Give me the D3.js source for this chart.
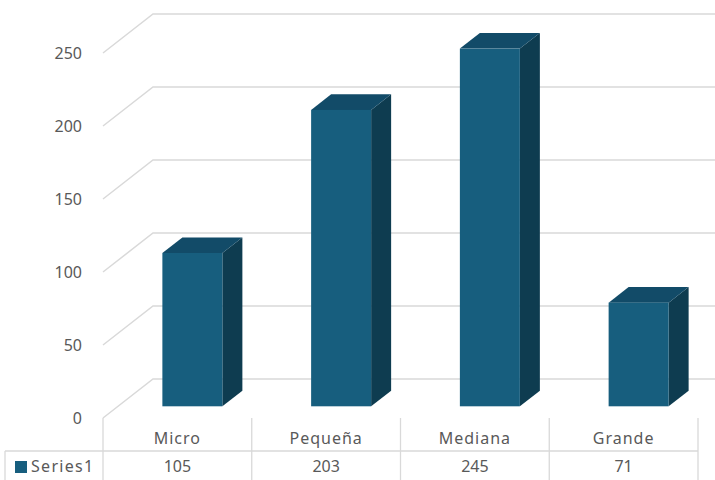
<!DOCTYPE html>
<html><head><meta charset="utf-8">
<script src="https://cdn.jsdelivr.net/npm/d3@7"></script>
<style>html,body{margin:0;padding:0;background:#fff;}svg{display:block;}</style>
</head><body>
<script>
const categories = ["Micro", "Pequeña", "Mediana", "Grande"];
const values = [105, 203, 245, 71];
const yTicks = [0, 50, 100, 150, 200, 250];
const seriesName = "Series1";

const W = 715, H = 480;
const DX = 50, DY = -39;          // depth offset of the back wall
const Z1 = 0.3, Z2 = 0.7;         // bar depth range
const font = "'Noto Sans', sans-serif";
const txt = "#595959", grid = "#d9d9d9";
const cFront = "#175e7e", cTop = "#124b68", cSide = "#0e3c50";

const svg = d3.select("body").append("svg").attr("width", W).attr("height", H);
const y = d3.scaleLinear().domain([0, 250]).range([418, 53]);
const x = d3.scaleBand().domain(categories).range([103, 698]);

// gridlines (floor edge + back wall)
svg.append("g").selectAll("path").data(yTicks).join("path")
  .attr("d", t => `M103,${y(t)}L${103 + DX},${y(t) + DY}L${W},${y(t) + DY}`)
  .attr("fill", "none").attr("stroke", grid).attr("stroke-width", 1.5);

// y labels
svg.append("g").selectAll("text").data(yTicks).join("text")
  .attr("x", 82).attr("y", t => y(t)).attr("dy", "0.35em")
  .attr("text-anchor", "end").attr("font-family", font).attr("font-size", 16)
  .attr("fill", txt).text(t => t);

// bars
const bars = svg.append("g").selectAll("g").data(categories).join("g");
const bw = 60;
function fx(c, z) { return x(c) + x.bandwidth() / 2 - bw / 2 + DX * z; }
function fy(v, z) { return y(v) + DY * z; }
bars.append("path").attr("fill", cSide).attr("d", (c, i) => {
  const v = values[i];
  const xr1 = fx(c, Z1) + bw, xr2 = fx(c, Z2) + bw;
  return `M${xr1},${fy(v, Z1)}L${xr2},${fy(v, Z2)}L${xr2},${fy(0, Z2)}L${xr1},${fy(0, Z1)}Z`;
});
bars.append("path").attr("fill", cTop).attr("d", (c, i) => {
  const v = values[i];
  const a = fx(c, Z1), b = fx(c, Z2);
  return `M${a},${fy(v, Z1)}L${b},${fy(v, Z2)}L${b + bw},${fy(v, Z2)}L${a + bw},${fy(v, Z1)}Z`;
});
bars.append("rect").attr("fill", cFront)
  .attr("x", c => fx(c, Z1)).attr("width", bw)
  .attr("y", (c, i) => fy(values[i], Z1))
  .attr("height", (c, i) => fy(0, Z1) - fy(values[i], Z1));

// data table
const tg = svg.append("g").attr("stroke", grid).attr("stroke-width", 1.3).attr("fill", "none");
const tableTop = 418, rowSep = 451, tableRight = x.range()[1];
tg.append("line").attr("x1", 5).attr("x2", tableRight).attr("y1", rowSep).attr("y2", rowSep);
tg.append("line").attr("x1", 5).attr("x2", 5).attr("y1", rowSep).attr("y2", H);
const edges = categories.map(c => x(c)).concat([tableRight]);
tg.selectAll("line.v").data(edges).join("line").attr("class", "v")
  .attr("x1", d => d).attr("x2", d => d).attr("y1", tableTop).attr("y2", H);

svg.append("g").selectAll("text").data(categories).join("text")
  .attr("x", c => x(c) + x.bandwidth() / 2).attr("y", 438).attr("dy", "0.35em")
  .attr("text-anchor", "middle").attr("font-family", font).attr("font-size", 16)
  .attr("letter-spacing", 1).attr("fill", txt).text(c => c);
svg.append("g").selectAll("text").data(values).join("text")
  .attr("x", (v, i) => x(categories[i]) + x.bandwidth() / 2).attr("y", 466).attr("dy", "0.35em")
  .attr("text-anchor", "middle").attr("font-family", font).attr("font-size", 16)
  .attr("fill", txt).text(v => v);

svg.append("rect").attr("x", 15).attr("y", 461).attr("width", 12).attr("height", 12).attr("fill", cFront);
svg.append("text").attr("x", 31).attr("y", 466).attr("dy", "0.35em")
  .attr("font-family", font).attr("font-size", 16).attr("letter-spacing", 1.3)
  .attr("fill", txt).text(seriesName);
</script>
</body></html>
